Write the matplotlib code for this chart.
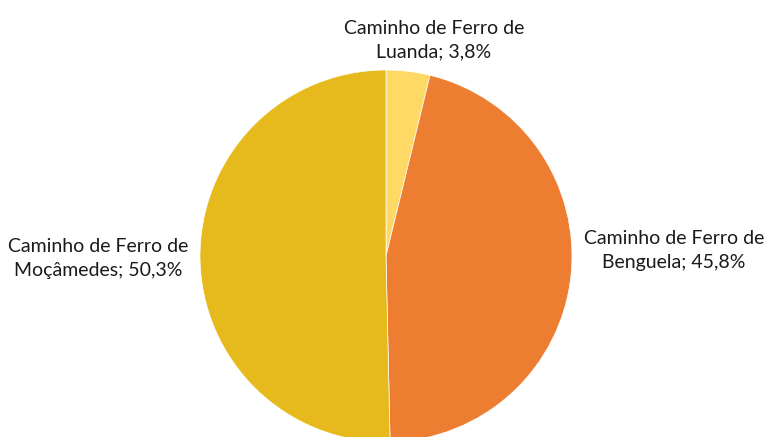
import matplotlib.pyplot as plt

labels = ['Caminho de Ferro de\nLuanda; 3,8%',
          'Caminho de Ferro de\nBenguela; 45,8%',
          'Caminho de Ferro de\nMoçâmedes; 50,3%']
values = [3.8, 45.8, 50.3]
colors = ['#FFD966', '#ED7D31', '#E6BA1C']
label_pos = [(0.258, 1.161), (1.548, 0.032), (-1.548, -0.016)]

plt.rcParams['font.family'] = ['Lato', 'DejaVu Sans']

fig = plt.figure(figsize=(7.65, 4.37), dpi=100)
ax = fig.add_axes([200 / 765, -5 / 437, 372 / 765, 372 / 437])
ax.pie(values, colors=colors, startangle=90, counterclock=False,
       wedgeprops=dict(edgecolor='white', linewidth=0.5))
ax.set_xlim(-1, 1)
ax.set_ylim(-1, 1)
ax.set_aspect('equal')
for lab, (x, y) in zip(labels, label_pos):
    ax.text(x, y, lab, ha='center', va='center', fontsize=14,
            color='#1a1a1a', linespacing=1.5, clip_on=False)

plt.savefig('out.png', dpi=100)
plt.close()
